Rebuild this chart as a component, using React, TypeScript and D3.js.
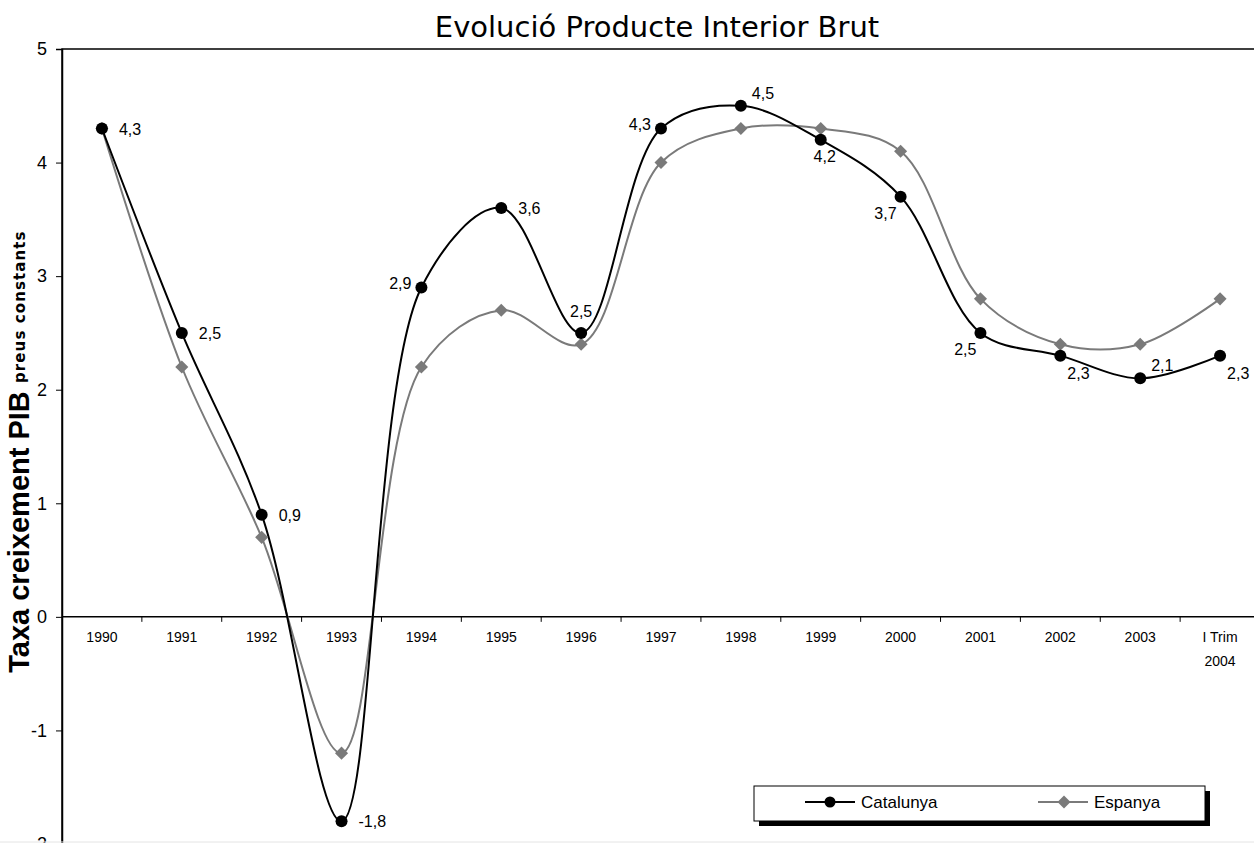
import React, { useEffect, useRef } from 'react';
import * as d3 from 'd3';

const years = ['1990', '1991', '1992', '1993', '1994', '1995', '1996', '1997', '1998', '1999', '2000', '2001', '2002', '2003', 'I Trim|2004'];
const catalunya = [4.3, 2.5, 0.9, -1.8, 2.9, 3.6, 2.5, 4.3, 4.5, 4.2, 3.7, 2.5, 2.3, 2.1, 2.3];
const espanya = [4.3, 2.2, 0.7, -1.2, 2.2, 2.7, 2.4, 4.0, 4.3, 4.3, 4.1, 2.8, 2.4, 2.4, 2.8];
const yTicks = [5, 4, 3, 2, 1, 0, -1, -2];
// where each Catalunya value label sits around its point
const labelSide = ['r', 'r', 'r', 'r', 'lu', 'r', 'u', 'lu', 'ru', 'd', 'ld', 'ld', 'rd', 'ru', 'rd'];

const W = 1254;
const H = 843;
const margin = { left: 62, top: 49, right: -6, bottom: -1 };
const FONT = 'Liberation Sans, Arial, sans-serif';
const GREY = '#7a7a7a';

const drawChart = (node: SVGSVGElement) => {
  const svg = d3.select(node);
  svg.selectAll('*').remove();

  const x = d3.scaleBand()
    .domain(years)
    .range([margin.left, W - margin.right]);
  const y = d3.scaleLinear()
    .domain([-2, 5])
    .range([H - margin.bottom, margin.top]);
  const cx = (i: number) => (x(years[i]) as number) + x.bandwidth() / 2;

  // plot frame
  svg.append('rect')
    .attr('x', margin.left)
    .attr('y', margin.top)
    .attr('width', W - margin.right - margin.left)
    .attr('height', H - margin.bottom - margin.top)
    .attr('fill', 'none')
    .attr('stroke', '#000')
    .attr('stroke-width', 1.5);

  // y axis
  const yAxis = svg.append('g')
    .attr('transform', `translate(${margin.left},0)`)
    .call(d3.axisLeft(y).tickValues(yTicks).tickSize(6).tickFormat(d => String(d)));
  yAxis.select('.domain').attr('stroke-width', 1.5);
  yAxis.selectAll('text')
    .attr('font-family', FONT)
    .attr('font-size', 18)
    .attr('fill', '#000')
    .attr('dx', -6);

  // x axis on the zero line
  const zero = y(0);
  svg.append('line')
    .attr('x1', margin.left).attr('x2', W)
    .attr('y1', zero).attr('y2', zero)
    .attr('stroke', '#000').attr('stroke-width', 1.5);
  svg.selectAll('.xtick')
    .data(years.slice(1))
    .enter()
    .append('line')
    .attr('class', 'xtick')
    .attr('x1', d => x(d) as number)
    .attr('x2', d => x(d) as number)
    .attr('y1', zero)
    .attr('y2', zero + 5)
    .attr('stroke', '#000');
  const xl = svg.selectAll('.xlabel')
    .data(years)
    .enter()
    .append('text')
    .attr('class', 'xlabel')
    .attr('x', d => (x(d) as number) + x.bandwidth() / 2)
    .attr('y', zero + 25)
    .attr('text-anchor', 'middle')
    .attr('font-family', FONT)
    .attr('font-size', 14);
  xl.selectAll('tspan')
    .data(d => d.split('|'))
    .enter()
    .append('tspan')
    .attr('x', function () { return (this.parentNode as SVGTextElement).getAttribute('x'); })
    .attr('dy', (d, i) => (i === 0 ? 0 : 24))
    .text(d => d);

  const line = d3.line<number>()
    .x((d, i) => cx(i))
    .y(d => y(d))
    .curve(d3.curveCatmullRom.alpha(0.5));

  svg.append('path')
    .attr('d', line(espanya))
    .attr('fill', 'none')
    .attr('stroke', GREY)
    .attr('stroke-width', 2);
  svg.append('path')
    .attr('d', line(catalunya))
    .attr('fill', 'none')
    .attr('stroke', '#000')
    .attr('stroke-width', 2);

  const diamond = d3.symbol().type(d3.symbolSquare).size(85);
  svg.selectAll('.esp')
    .data(espanya)
    .enter()
    .append('path')
    .attr('class', 'esp')
    .attr('d', diamond())
    .attr('transform', (d, i) => `translate(${cx(i)},${y(d)}) rotate(45)`)
    .attr('fill', GREY);

  svg.selectAll('.cat')
    .data(catalunya)
    .enter()
    .append('circle')
    .attr('class', 'cat')
    .attr('cx', (d, i) => cx(i))
    .attr('cy', d => y(d))
    .attr('r', 6)
    .attr('fill', '#000');

  const off: Record<string, [number, number, string]> = {
    r: [17, 6, 'start'],
    lu: [-10, 1, 'end'],
    u: [0, -16, 'middle'],
    ru: [11, -7, 'start'],
    d: [4, 22, 'middle'],
    ld: [-4, 22, 'end'],
    rd: [7, 23, 'start']
  };
  svg.selectAll('.vlabel')
    .data(catalunya)
    .enter()
    .append('text')
    .attr('class', 'vlabel')
    .attr('x', (d, i) => cx(i) + off[labelSide[i]][0])
    .attr('y', (d, i) => y(d) + off[labelSide[i]][1])
    .attr('text-anchor', (d, i) => off[labelSide[i]][2])
    .attr('font-family', FONT)
    .attr('font-size', 16)
    .text(d => String(d).replace('.', ','));

  // title
  svg.append('text')
    .attr('x', 657)
    .attr('y', 37)
    .attr('text-anchor', 'middle')
    .attr('font-family', 'Comic Sans MS, DejaVu Sans, sans-serif')
    .attr('font-size', 29)
    .text('Evolució Producte Interior Brut');

  // y title
  svg.append('text')
    .attr('transform', 'translate(29,532) rotate(-90)')
    .attr('text-anchor', 'middle')
    .attr('font-family', FONT)
    .attr('font-weight', 'bold')
    .attr('font-size', 29)
    .text('Taxa creixement PIB');
  svg.append('text')
    .attr('transform', 'translate(25,383) rotate(-90)')
    .attr('font-family', 'DejaVu Sans, Verdana, sans-serif')
    .attr('font-weight', 'bold')
    .attr('font-size', 15)
    .attr('letter-spacing', 1.1)
    .text('preus constants');

  // legend
  const lg = svg.append('g').attr('transform', 'translate(754,786)');
  lg.append('rect').attr('x', 5).attr('y', 5).attr('width', 451).attr('height', 35).attr('fill', '#000');
  lg.append('rect').attr('x', 0).attr('y', 0).attr('width', 451).attr('height', 35)
    .attr('fill', '#fff').attr('stroke', '#000').attr('stroke-width', 1);
  lg.append('line').attr('x1', 51).attr('x2', 101).attr('y1', 16).attr('y2', 16).attr('stroke', '#000').attr('stroke-width', 2);
  lg.append('circle').attr('cx', 76).attr('cy', 16).attr('r', 5.5).attr('fill', '#000');
  lg.append('text').attr('x', 107).attr('y', 22).attr('font-family', FONT)
    .attr('font-size', 17).text('Catalunya');
  lg.append('line').attr('x1', 284).attr('x2', 334).attr('y1', 16).attr('y2', 16).attr('stroke', GREY).attr('stroke-width', 2);
  lg.append('path').attr('d', diamond()).attr('transform', 'translate(310,16) rotate(45)').attr('fill', GREY);
  lg.append('text').attr('x', 340).attr('y', 22).attr('font-family', FONT)
    .attr('font-size', 17).text('Espanya');

  // faint outer edge at the bottom
  svg.append('line')
    .attr('x1', 0).attr('x2', W).attr('y1', 842).attr('y2', 842)
    .attr('stroke', '#e4e4e4');
};

const App = () => {
  const ref = useRef<SVGSVGElement>(null);
  useEffect(() => {
    if (ref.current) drawChart(ref.current);
  }, []);
  return (
    <svg ref={ref} width={W} height={H}
      style={{ position: 'absolute', left: 0, top: 0, background: '#fff', overflow: 'hidden' }} />
  );
};

export default App;
